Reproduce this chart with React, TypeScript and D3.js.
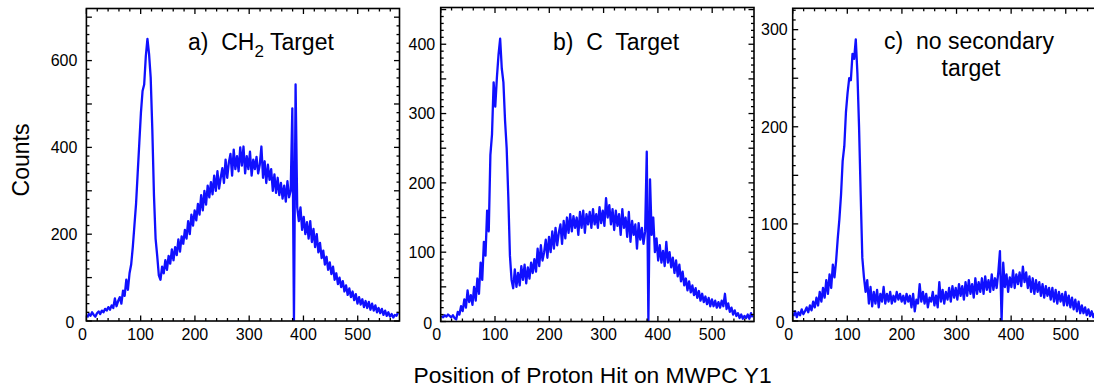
import React from "react";
import * as d3 from "d3";

// channel spacing of the listed histogram values (channels 0,3,6,...,573)
const CHANNEL_STEP = 3;
const X_MAX = 577;
const xTickLabels = [0, 100, 200, 300, 400, 500];

// a) CH2 target
const countsA = [
  8, 16, 12, 20, 14, 10, 18, 22, 16, 24,
  20, 28, 24, 32, 26, 36, 30, 52, 34, 46,
  55, 40, 70, 58, 95, 72, 110, 130, 170, 220,
  270, 340, 410, 480, 530, 545, 610, 650, 615, 560,
  440, 290, 190, 150, 105, 95, 125, 110, 140, 118,
  150, 132, 165, 140, 170, 152, 188, 160, 195, 178,
  210, 190, 230, 200, 245, 220, 255, 232, 270, 245,
  290, 255, 300, 268, 312, 285, 320, 292, 335, 300,
  345, 305, 330, 352, 318, 372, 330, 365, 385, 335,
  395, 350, 380, 345, 400, 358, 402, 340, 380, 350,
  390, 335, 372, 350, 378, 340, 360, 402, 330, 368,
  318, 360, 325, 350, 300, 338, 295, 330, 290, 318,
  282, 312, 275, 322, 285, 300, 490, 0, 545, 262,
  230, 262, 210, 240, 200, 228, 190, 230, 182, 212,
  170, 200, 158, 180, 145, 162, 130, 148, 118, 135,
  108, 125, 95, 110, 85, 100, 78, 92, 68, 82,
  60, 75, 55, 68, 48, 62, 40, 55, 38, 50,
  32, 46, 30, 44, 26, 40, 24, 36, 20, 30,
  18, 28, 14, 24, 12, 20, 10, 16, 8, 14,
  12, 20,
];

// b) C target
const countsB = [
  8, 6, 9, 7, 10, 8, 6, 9, 5, 3,
  14, 10, 22, 15, 32, 20, 45, 28, 38, 24,
  50, 30, 62, 40, 85, 60, 115, 95, 160, 130,
  240, 270, 345, 310, 352, 385, 408, 365, 345, 290,
  250, 180, 95, 60, 48, 75, 50, 70, 52, 80,
  60, 82, 55, 78, 62, 85, 70, 90, 72, 105,
  80, 110, 88, 100, 118, 92, 122, 100, 130, 105,
  135, 110, 128, 140, 112, 145, 120, 150, 128, 155,
  130, 152, 135, 150, 125, 158, 135, 160, 128, 155,
  140, 158, 135, 162, 140, 155, 135, 165, 142, 160,
  138, 178, 150, 168, 140, 162, 132, 160, 138, 155,
  125, 162, 135, 150, 122, 158, 115, 145, 125, 140,
  105, 142, 118, 135, 112, 130, 245, 0, 205, 125,
  150, 100, 120, 88, 110, 85, 102, 80, 115, 85,
  100, 78, 92, 70, 88, 65, 82, 58, 72, 52,
  62, 45, 58, 42, 52, 38, 48, 34, 44, 30,
  40, 28, 36, 25, 34, 22, 32, 22, 30, 20,
  28, 20, 30, 22, 40, 18, 26, 14, 20, 10,
  16, 8, 12, 5, 10, 4, 8, 5, 10, 4,
  12, 6,
];

// c) no secondary target
const countsC = [
  5, 10, 4, 9, 6, 12, 7, 10, 14, 9,
  16, 11, 20, 14, 24, 16, 30, 20, 34, 24,
  42, 28, 48, 34, 58, 45, 62, 85, 105, 130,
  165, 180, 215, 235, 250, 248, 275, 270, 290, 255,
  200, 130, 65, 45, 30, 42, 18, 35, 15, 30,
  18, 32, 14, 28, 20, 35, 18, 28, 20, 30,
  18, 26, 20, 30, 22, 28, 20, 26, 18, 28,
  20, 26, 14, 28, 10, 22, 18, 38, 20, 30,
  18, 28, 14, 24, 20, 30, 16, 26, 14, 40,
  20, 32, 18, 30, 22, 34, 20, 36, 24, 34,
  22, 38, 26, 36, 22, 40, 26, 42, 28, 38,
  24, 44, 28, 40, 30, 44, 28, 46, 32, 42,
  30, 48, 32, 44, 34, 50, 72, 0, 60, 35,
  48, 30, 45, 35, 52, 34, 48, 38, 50, 36,
  56, 40, 50, 34, 46, 30, 44, 28, 42, 30,
  40, 26, 38, 24, 36, 26, 34, 22, 34, 20,
  32, 18, 30, 20, 28, 16, 30, 16, 26, 14,
  24, 12, 22, 10, 20, 8, 16, 8, 14, 6,
  12, 5, 10, 4, 8, 6, 10, 5, 8, 6,
  10, 5,
];

const yLabelsA = [0, 200, 400, 600];
const yLabelsB = [0, 100, 200, 300, 400];
const yLabelsC = [0, 100, 200, 300];

const BLUE = "#1010ff";
const FONT = "'Liberation Sans', Arial, Helvetica, sans-serif";

type PanelProps = {
  id: string;
  left: number;
  right: number;
  top: number;
  bottom: number;
  yMax: number;
  yMajor: number;
  yMinor: number;
  yLabels: number[];
  labelGap: number;
  counts: number[];
  children?: React.ReactNode;
};

function Panel(p: PanelProps) {
  const x = d3.scaleLinear().domain([0, X_MAX]).range([p.left, p.right]);
  const y = d3.scaleLinear().domain([0, p.yMax]).range([p.bottom, p.top]);
  const pts = p.counts.map((v, i) => ({ ch: i * CHANNEL_STEP + 1.5, v }));
  const line = d3
    .line<{ ch: number; v: number }>()
    .x((d) => x(d.ch))
    .y((d) => y(d.v))
    .curve(d3.curveLinear);

  const xTicks = d3.range(0, X_MAX, 20);
  const yTicks = d3.range(0, p.yMax, p.yMinor);

  return (
    <g>
      <defs>
        <clipPath id={"clip-" + p.id}>
          <rect x={p.left} y={p.top} width={p.right - p.left} height={p.bottom - p.top} />
        </clipPath>
      </defs>
      <path
        d={line(pts) || ""}
        fill="none"
        stroke={BLUE}
        strokeWidth={2.3}
        strokeLinejoin="round"
        clipPath={`url(#clip-${p.id})`}
      />
      {xTicks.map((t) => {
        const len = t % 100 === 0 ? 5.5 : 3;
        const xx = x(t);
        return (
          <g key={"xt" + t}>
            <line x1={xx} x2={xx} y1={p.bottom} y2={p.bottom - len} stroke="#000" strokeWidth={1.3} />
            <line x1={xx} x2={xx} y1={p.top} y2={p.top + len} stroke="#000" strokeWidth={1.3} />
          </g>
        );
      })}
      {yTicks.map((t) => {
        const len = t % p.yMajor === 0 ? 5.5 : 3;
        const yy = y(t);
        return (
          <g key={"yt" + t}>
            <line x1={p.left} x2={p.left + len} y1={yy} y2={yy} stroke="#000" strokeWidth={1.3} />
            <line x1={p.right} x2={p.right - len} y1={yy} y2={yy} stroke="#000" strokeWidth={1.3} />
          </g>
        );
      })}
      <rect
        x={p.left}
        y={p.top}
        width={p.right - p.left}
        height={p.bottom - p.top}
        fill="none"
        stroke="#000"
        strokeWidth={1.6}
      />
      {xTickLabels.map((t) => (
        <text
          key={"xl" + t}
          x={x(t) + (t === 0 ? -4 : 0)}
          y={p.bottom + 18.5}
          textAnchor="middle"
          fontSize={16}
          fontFamily={FONT}
          fill="#000"
        >
          {t}
        </text>
      ))}
      {p.yLabels.map((t) => (
        <text
          key={"yl" + t}
          x={p.left - p.labelGap - (t === 0 ? 3 : 0)}
          y={y(t) + 5.8 + (t === 0 ? 1.5 : 0)}
          textAnchor="end"
          fontSize={16}
          fontFamily={FONT}
          fill="#000"
        >
          {t}
        </text>
      ))}
      {p.children}
    </g>
  );
}

export default function App() {
  return (
    <svg
      width={1094}
      height={387}
      viewBox="0 0 1094 387"
      style={{ position: "absolute", left: 0, top: 0, background: "#fff" }}
    >
      <rect x={0} y={0} width={1094} height={387} fill="#fff" />
      <Panel
        id="a"
        left={86.4}
        right={399.5}
        top={8.5}
        bottom={321}
        yMax={720}
        yMajor={100}
        yMinor={20}
        yLabels={yLabelsA}
        labelGap={9}
        counts={countsA}
      >
        <text x={188} y={50} fontSize={23} fontFamily={FONT} fill="#000" style={{ whiteSpace: "pre" }}>
          {"a)  CH"}
          <tspan dy={7} fontSize={17}>2</tspan>
          <tspan dy={-7}>{" Target"}</tspan>
        </text>
      </Panel>
      <Panel
        id="b"
        left={440.7}
        right={754}
        top={7.5}
        bottom={321.5}
        yMax={453}
        yMajor={50}
        yMinor={10}
        yLabels={yLabelsB}
        labelGap={5.5}
        counts={countsB}
      >
        <text x={553} y={50} fontSize={23} fontFamily={FONT} fill="#000" style={{ whiteSpace: "pre" }}>
          {"b)  C  Target"}
        </text>
      </Panel>
      <Panel
        id="c"
        left={792.7}
        right={1107.8}
        top={8.3}
        bottom={321}
        yMax={322}
        yMajor={50}
        yMinor={10}
        yLabels={yLabelsC}
        labelGap={5}
        counts={countsC}
      >
        <text x={969} y={48.5} textAnchor="middle" fontSize={23} fontFamily={FONT} fill="#000" style={{ whiteSpace: "pre" }}>
          {"c)  no secondary"}
        </text>
        <text x={971} y={76} textAnchor="middle" fontSize={23} fontFamily={FONT} fill="#000">
          target
        </text>
      </Panel>
      <text
        transform="translate(29,160) rotate(-90)"
        textAnchor="middle"
        fontSize={23}
        fontFamily={FONT}
        fill="#000"
      >
        Counts
      </text>
      <text x={592.5} y={383} textAnchor="middle" fontSize={22.8} fontFamily={FONT} fill="#000">
        Position of Proton Hit on MWPC Y1
      </text>
    </svg>
  );
}
